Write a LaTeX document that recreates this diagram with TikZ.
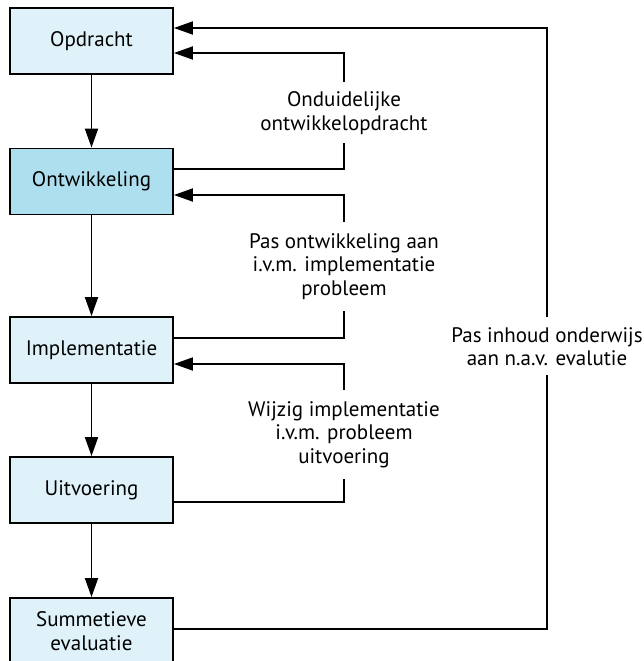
\documentclass[tikz,border=0pt]{standalone}
\usepackage{fontspec}
\setmainfont{PT Sans}
\usetikzlibrary{arrows.meta}
\definecolor{lightbox}{HTML}{E0F2F9}
\definecolor{darkbox}{HTML}{AEDFEF}
\begin{document}
\begin{tikzpicture}[x=1pt,y=-1pt,
  stage/.style={draw=black, line width=1.8pt, fill=lightbox, minimum width=163pt, minimum height=66pt, inner sep=0pt, align=center, font=\fontsize{21}{24.5}\selectfont},
  lbl/.style={align=center, inner sep=0pt, font=\fontsize{21}{23.5}\selectfont},
  conn/.style={line width=1.8pt, draw=black},
  arr/.style={conn, -{Triangle[length=19pt,width=13pt]}}]
\useasboundingbox (0,0) rectangle (643,661);
\node[stage] (opd) at (91.5,41) {Opdracht};
\node[stage, fill=darkbox] (ont) at (91.5,181.5) {Ontwikkeling};
\node[stage] (imp) at (91.5,350) {Implementatie};
\node[stage] (uit) at (91.5,490) {Uitvoering};
\node[stage] (sum) at (91.5,631) {Summetieve\\evaluatie};
\draw[arr] (opd) -- (ont);
\draw[arr] (ont) -- (imp);
\draw[arr] (imp) -- (uit);
\draw[arr] (uit) -- (sum);
% feedback 1
\node[lbl] (l1) at (344,113) {Onduidelijke\\ontwikkelopdracht};
\coordinate (a1) at (344,53);
\coordinate (b1) at (344,169);
\draw[arr] (l1.north |- 0,82) -- (a1) -- (opd.east |- a1);
\draw[conn] (l1.south |- 0,143) -- (b1) -- (ont.east |- b1);
% feedback 2
\node[lbl] (l2) at (344,266.5) {Pas ontwikkeling aan\\i.v.m. implementatie\\probleem};
\coordinate (a2) at (344,195);
\coordinate (b2) at (344,338);
\draw[arr] (l2.north |- 0,222) -- (a2) -- (ont.east |- a2);
\draw[conn] (l2.south |- 0,311) -- (b2) -- (imp.east |- b2);
% feedback 3
\node[lbl] (l3) at (344,434.5) {Wijzig implementatie\\i.v.m. probleem\\uitvoering};
\coordinate (a3) at (344,364);
\coordinate (b3) at (344,502);
\draw[arr] (l3.north |- 0,390) -- (a3) -- (imp.east |- a3);
\draw[conn] (l3.south |- 0,479) -- (b3) -- (uit.east |- b3);
% big loop
\node[lbl] (l4) at (547,346.5) {Pas inhoud onderwijs\\aan n.a.v. evalutie};
\coordinate (a4) at (547,28);
\coordinate (b4) at (547,629);
\draw[arr] (l4.north |- 0,317) -- (a4) -- (opd.east |- a4);
\draw[conn] (l4.south |- 0,375) -- (b4) -- (sum.east |- b4);
\end{tikzpicture}
\end{document}
